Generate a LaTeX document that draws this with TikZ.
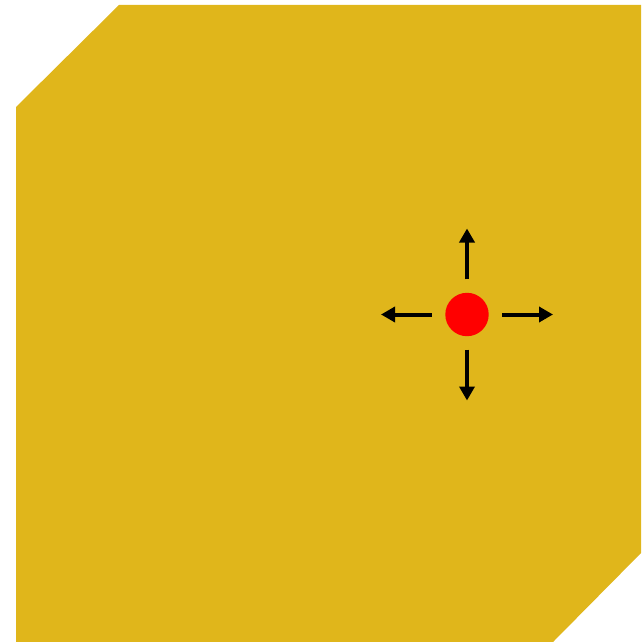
\documentclass[tikz,border=0pt]{standalone}
\definecolor{slabgold}{RGB}{224, 182, 27}
\definecolor{loadred}{RGB}{255, 0, 0}
\usetikzlibrary{arrows.meta}

\begin{document}
\begin{tikzpicture}[x=1pt, y=-1pt,
  push/.style={line width=4pt, -{Triangle[length=14pt, width=15pt]}, shorten <=13.3pt}]
\useasboundingbox (0,0) rectangle (641,642);
\fill[slabgold] (16,107) -- (119,5) -- (641,5) -- (641,553) -- (553,642) -- (16,642) -- cycle;
\node[circle, fill=loadred, minimum size=43.4pt, inner sep=0pt] (dot) at (467,314.5) {};
\coordinate (up) at (467,228.5);
\coordinate (down) at (467,400.5);
\coordinate (left) at (381,314.5);
\coordinate (right) at (553,314.5);
\draw[push] (dot) -- (up);
\draw[push] (dot) -- (down);
\draw[push] (dot) -- (left);
\draw[push] (dot) -- (right);
\end{tikzpicture}
\end{document}
